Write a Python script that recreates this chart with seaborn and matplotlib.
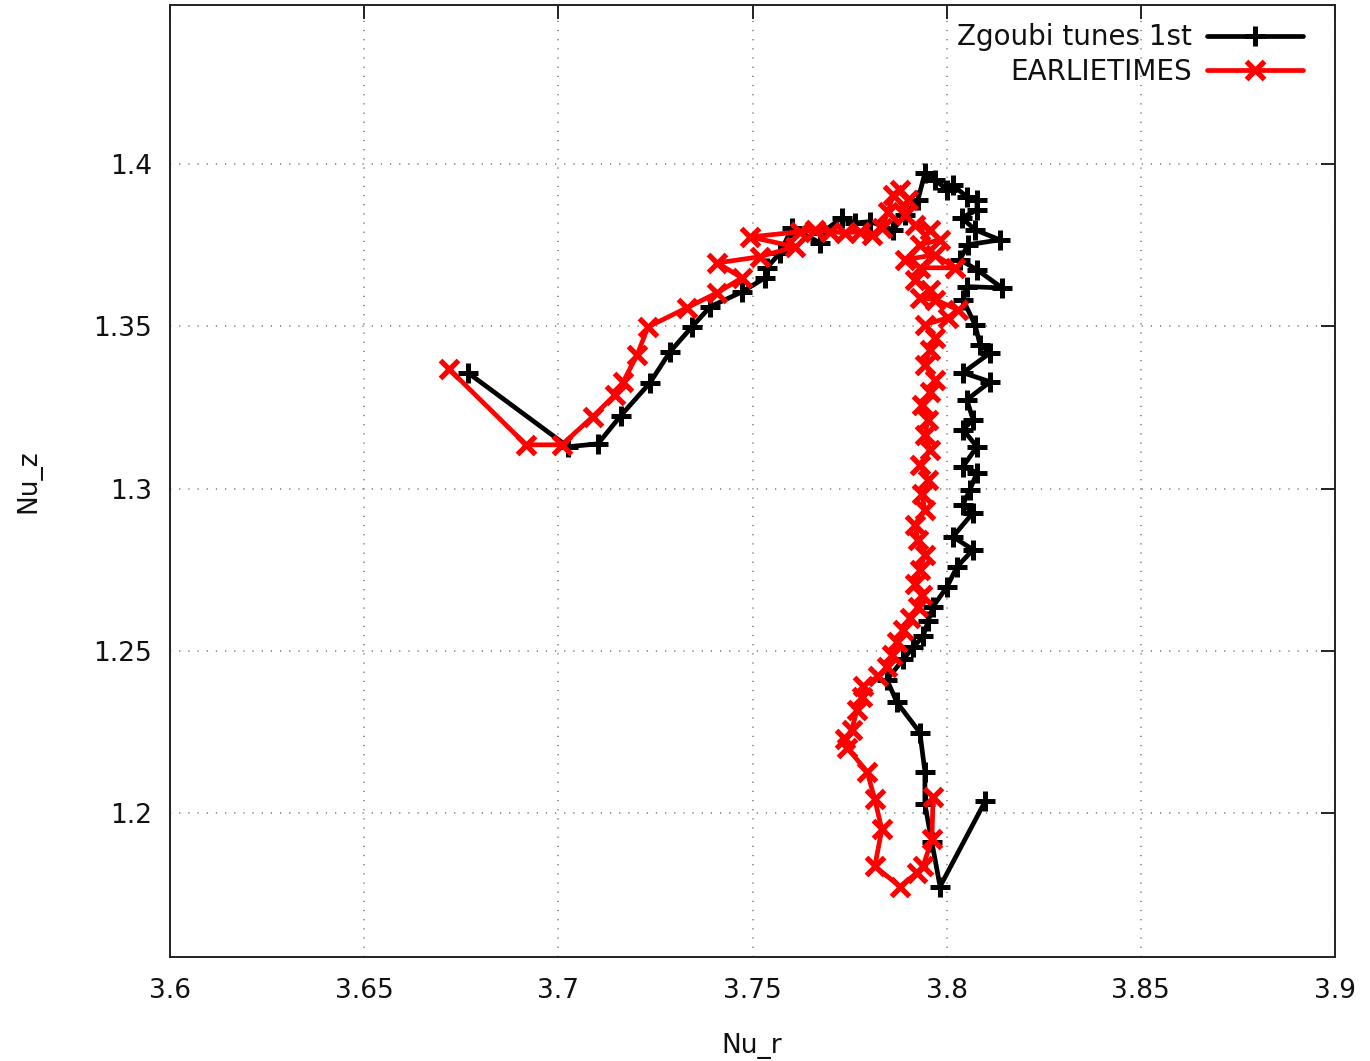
import numpy as np
import pandas as pd
import matplotlib
matplotlib.use("Agg")
import matplotlib.pyplot as plt
import seaborn as sns

# ---- data ----
zgoubi_nu_r = [3.6767, 3.7025, 3.7102, 3.7161, 3.7236, 3.7288, 3.7344, 3.7391, 3.7473, 3.7532,
               3.7537, 3.7571, 3.7602, 3.7674, 3.7679, 3.7730, 3.7764, 3.7803, 3.7862, 3.7893,
               3.7926, 3.7944, 3.7970, 3.8001, 3.8016, 3.8052, 3.8078, 3.8078, 3.8039, 3.8073,
               3.8137, 3.8055, 3.8034, 3.8078, 3.8143, 3.8052, 3.8042, 3.8073, 3.8086, 3.8112,
               3.8042, 3.8112, 3.8052, 3.8068, 3.8042, 3.8078, 3.8042, 3.8078, 3.8060, 3.8042,
               3.8068, 3.8016, 3.8068, 3.8027, 3.8001, 3.7965, 3.7952, 3.7939, 3.7913, 3.7888,
               3.7846, 3.7872, 3.7931, 3.7944, 3.7944, 3.7962, 3.7983, 3.8099]
zgoubi_nu_z = [1.3357, 1.3129, 1.3138, 1.3225, 1.3326, 1.3422, 1.3498, 1.3560, 1.3606, 1.3649,
               1.3680, 1.3726, 1.3803, 1.3757, 1.3788, 1.3834, 1.3818, 1.3822, 1.3797, 1.3843,
               1.3889, 1.3972, 1.3951, 1.3920, 1.3935, 1.3898, 1.3889, 1.3858, 1.3834, 1.3797,
               1.3766, 1.3751, 1.3705, 1.3674, 1.3618, 1.3622, 1.3582, 1.3505, 1.3443, 1.3418,
               1.3357, 1.3329, 1.3274, 1.3212, 1.3182, 1.3129, 1.3068, 1.3049, 1.2997, 1.2951,
               1.2926, 1.2852, 1.2812, 1.2760, 1.2698, 1.2637, 1.2591, 1.2545, 1.2511, 1.2474,
               1.2412, 1.2342, 1.2249, 1.2129, 1.2028, 1.1911, 1.1775, 1.2037]

earlie_nu_r = [3.6718, 3.6917, 3.7009, 3.7089, 3.7146, 3.7167, 3.7203, 3.7231, 3.7331, 3.7409,
               3.7473, 3.7409, 3.7519, 3.7609, 3.7494, 3.7622, 3.7661, 3.7700, 3.7738, 3.7777,
               3.7808, 3.7833, 3.7849, 3.7862, 3.7880, 3.7900, 3.7893, 3.7918, 3.7957, 3.7983,
               3.7931, 3.7893, 3.7970, 3.8021, 3.7931, 3.7918, 3.7957, 3.7931, 3.7970, 3.8029,
               3.8003, 3.7944, 3.7970, 3.7957, 3.7944, 3.7970, 3.7957, 3.7936, 3.7952, 3.7944,
               3.7957, 3.7931, 3.7952, 3.7936, 3.7944, 3.7918, 3.7926, 3.7944, 3.7931, 3.7918,
               3.7936, 3.7926, 3.7906, 3.7888, 3.7872, 3.7859, 3.7846, 3.7823, 3.7785, 3.7782,
               3.7769, 3.7756, 3.7738, 3.7743, 3.7795, 3.7815, 3.7833, 3.7815, 3.7880, 3.7924,
               3.7939, 3.7962, 3.7965]
earlie_nu_z = [1.3369, 1.3135, 1.3135, 1.3222, 1.3289, 1.3329, 1.3412, 1.3498, 1.3557, 1.3603,
               1.3649, 1.3695, 1.3714, 1.3745, 1.3775, 1.3791, 1.3797, 1.3791, 1.3788, 1.3791,
               1.3782, 1.3803, 1.3852, 1.3905, 1.3920, 1.3889, 1.3843, 1.3812, 1.3797, 1.3766,
               1.3751, 1.3705, 1.3720, 1.3680, 1.3680, 1.3643, 1.3612, 1.3588, 1.3582, 1.3551,
               1.3526, 1.3505, 1.3465, 1.3428, 1.3382, 1.3335, 1.3298, 1.3258, 1.3212, 1.3166,
               1.3120, 1.3074, 1.3028, 1.2982, 1.2935, 1.2889, 1.2843, 1.2797, 1.2751, 1.2705,
               1.2674, 1.2637, 1.2603, 1.2566, 1.2529, 1.2489, 1.2452, 1.2422, 1.2391, 1.2360,
               1.2320, 1.2258, 1.2228, 1.2203, 1.2129, 1.2043, 1.1951, 1.1837, 1.1775, 1.1818,
               1.1837, 1.1920, 1.2052]

series_labels = ["Zgoubi tunes 1st", "EARLIETIMES"]
x_ticks = [3.6, 3.65, 3.7, 3.75, 3.8, 3.85, 3.9]
x_tick_labels = ["3.6", "3.65", "3.7", "3.75", "3.8", "3.85", "3.9"]
y_ticks = [1.2, 1.25, 1.3, 1.35, 1.4]
y_tick_labels = ["1.2", "1.25", "1.3", "1.35", "1.4"]

# ---- styling ----
sns.set_theme(style="white")
plt.rcParams["font.family"] = ["DejaVu Sans"]

fig = plt.figure(figsize=(13.7, 10.61), dpi=100)
ax = fig.add_axes([170 / 1370, 1 - 957 / 1061, (1335 - 170) / 1370, (957 - 4.7) / 1061])

df_z = pd.DataFrame({"Nu_r": zgoubi_nu_r, "Nu_z": zgoubi_nu_z})
df_e = pd.DataFrame({"Nu_r": earlie_nu_r, "Nu_z": earlie_nu_z})

sns.lineplot(data=df_z, x="Nu_r", y="Nu_z", sort=False, estimator=None, ax=ax,
             color="black", linewidth=3.4, marker="+", markersize=14, markeredgewidth=3.6,
             markeredgecolor="black", markerfacecolor="black",
             label=series_labels[0], zorder=3)
sns.lineplot(data=df_e, x="Nu_r", y="Nu_z", sort=False, estimator=None, ax=ax,
             color="#ff0000", linewidth=3.4, marker="x", markersize=13, markeredgewidth=3.8,
             markeredgecolor="#ff0000", markerfacecolor="#ff0000",
             label=series_labels[1], zorder=4)

ax.set_xlim(3.6, 3.9)
ax.set_ylim(1.1558, 1.449)
ax.set_xticks(x_ticks)
ax.set_xticklabels(x_tick_labels)
ax.set_yticks(y_ticks)
ax.set_yticklabels(y_tick_labels)

ax.grid(True, color="#777777", linewidth=1.1, linestyle=(0, (0.8, 5.2)))
ax.set_axisbelow(True)
for s in ax.spines.values():
    s.set_color("#222222")
    s.set_linewidth(1.4)
    s.set_visible(True)

ax.tick_params(axis="both", which="major", direction="in", length=10, width=1.4,
               color="#222222", top=True, right=True, labelsize=19, labelcolor="#111111")
ax.tick_params(axis="x", pad=15)
ax.tick_params(axis="y", pad=13)

ax.set_xlabel("Nu_r", fontsize=19, color="#111111")
ax.set_ylabel("Nu_z", fontsize=19, color="#111111")
ax.xaxis.set_label_coords(0.4996, -0.08)
ax.yaxis.set_label_coords(-0.110, 0.5)

leg = ax.legend(loc="upper right", bbox_to_anchor=(0.9725, 0.9805), frameon=False,
                markerfirst=False, fontsize=20, handlelength=3.45, handletextpad=0.55,
                borderaxespad=0, borderpad=0, labelspacing=0.25)
for t in leg.get_texts():
    t.set_color("#111111")

fig.savefig("out.png", dpi=100)
